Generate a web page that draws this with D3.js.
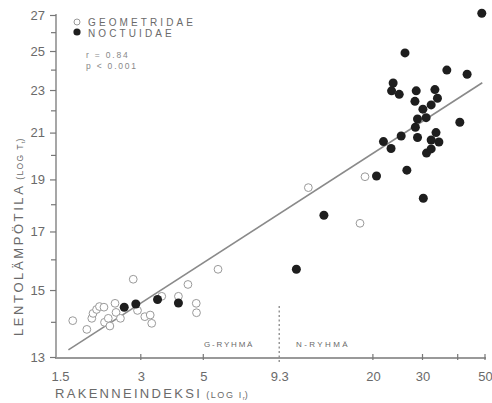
<!DOCTYPE html>
<html><head><meta charset="utf-8">
<script src="https://cdn.jsdelivr.net/npm/d3@7"></script>
<style>
html,body{margin:0;padding:0;background:#fff;}
svg text{font-family:"Liberation Sans",Arial,sans-serif;}
</style>
</head><body>
<svg id="chart" width="492" height="403"></svg>
<script>
// ---- data ----
const xTickValues = [1.5, 3, 5, 9.3, 20, 30, 50];
const xTickLabels = ["1.5", "3", "5", "9.3", "20", "30", "50"];
const xMinorTicks = [40];
const yTickValues = [13, 15, 17, 19, 21, 23, 25, 27];
const yMinorTicks = [14, 16, 18, 20, 22, 24, 26];

const geometridaeX = [1.72,1.93,2.01,2.03,2.09,2.14,2.22,2.23,2.30,2.33,2.43,2.45,2.54,2.82,2.92,3.10,3.24,3.28,3.56,4.08,4.41,4.72,4.73,5.64,11.8,18.75,18.0];
const geometridaeY = [14.05,13.79,14.12,14.27,14.39,14.48,14.46,14.0,14.12,13.89,14.58,14.30,14.12,15.35,14.36,14.17,14.22,13.97,14.80,14.80,15.18,14.58,14.29,15.68,18.67,19.11,17.3];

const noctuidaeX = [2.62,2.88,3.44,4.08,10.7,13.4,20.6,21.8,23.2,23.6,23.3,24.8,25.2,26.0,26.4,28.3,28.2,28.5,28.8,28.8,30.1,30.2,30.9,31.0,32.2,32.2,32.2,33.2,33.9,33.5,34.3,36.6,40.7,43.2,48.7];
const noctuidaeY = [14.46,14.56,14.70,14.59,15.68,17.6,19.14,20.6,20.3,23.35,22.96,22.79,20.85,24.9,19.38,21.24,22.45,22.96,21.62,20.78,22.08,18.25,21.68,20.1,22.28,20.67,20.28,23.02,22.6,21.0,20.58,24.0,21.47,23.79,27.1];

const regressionX = [1.66, 48.9];
const regressionY = [13.2, 23.36];
const groupBoundary = 9.3;
const legendLabels = ["GEOMETRIDAE", "NOCTUIDAE"];
const statsLines = ["r = 0.84", "p < 0.001"];
const groupLabels = ["G-RYHMÄ", "N-RYHMÄ"];

// ---- drawing ----
const svg = d3.select("#chart");
const x = d3.scaleLog().domain([1.5, 50]).range([56, 485]);
const y = d3.scaleLog().domain([13, 27]).range([357, 15]);
const axisCol = "#777", textCol = "#6a6a6a";

// y axis
const yAxis = d3.axisLeft(y).tickValues(yTickValues).tickFormat(d3.format("d")).tickSize(6).tickPadding(5);
const gy = svg.append("g").attr("transform", "translate(56,0)").call(yAxis);
gy.select(".domain").attr("stroke", axisCol).attr("stroke-width", 1.3).attr("d", "M0,14V357");
gy.selectAll(".tick line").attr("stroke", axisCol).attr("stroke-width", 1.2);
gy.selectAll(".tick text").attr("fill", textCol).attr("font-size", 13);
gy.selectAll(".minor").data(yMinorTicks).enter().append("line")
  .attr("x1", -5).attr("x2", 0).attr("y1", d => y(d)).attr("y2", d => y(d))
  .attr("stroke", axisCol).attr("stroke-width", 1.2);

// x axis
const xAxis = d3.axisBottom(x).tickValues(xTickValues).tickFormat((d, i) => xTickLabels[i]).tickSize(0).tickPadding(14);
const gx = svg.append("g").attr("transform", "translate(0,358)").call(xAxis);
gx.select(".domain").attr("stroke", axisCol).attr("stroke-width", 1.3).attr("d", "M55,0H486");
gx.selectAll(".tick text").attr("fill", textCol).attr("font-size", 13);
gx.selectAll(".tick").filter(d => d === 1.5).select("text").attr("dx", 4);
gx.selectAll(".tk").data(xTickValues.filter(d => d !== 1.5 && d !== groupBoundary).concat(xMinorTicks)).enter().append("line")
  .attr("x1", d => x(d)).attr("x2", d => x(d)).attr("y1", -4).attr("y2", 2)
  .attr("stroke", axisCol).attr("stroke-width", 1.2);

// group boundary dashed line
svg.append("line").attr("x1", x(groupBoundary)).attr("x2", x(groupBoundary))
  .attr("y1", 306).attr("y2", 362)
  .attr("stroke", "#888").attr("stroke-width", 1.3).attr("stroke-dasharray", "2,2.5");
svg.append("text").attr("x", 204).attr("y", 347).text(groupLabels[0])
  .attr("fill", textCol).attr("font-size", 8).attr("letter-spacing", 1.8);
svg.append("text").attr("x", 296).attr("y", 347).text(groupLabels[1])
  .attr("fill", textCol).attr("font-size", 8).attr("letter-spacing", 2.4);

// regression line
svg.append("line")
  .attr("x1", x(regressionX[0])).attr("y1", y(regressionY[0]))
  .attr("x2", x(regressionX[1])).attr("y2", y(regressionY[1]))
  .attr("stroke", "#8a8a8a").attr("stroke-width", 1.6);

// points
const geo = geometridaeX.map((v, i) => [v, geometridaeY[i]]);
const noc = noctuidaeX.map((v, i) => [v, noctuidaeY[i]]);
svg.append("g").selectAll("circle").data(geo).enter().append("circle")
  .attr("cx", d => x(d[0])).attr("cy", d => y(d[1])).attr("r", 3.9)
  .attr("fill", "#fff").attr("stroke", "#9a9a9a").attr("stroke-width", 1);
svg.append("g").selectAll("circle").data(noc).enter().append("circle")
  .attr("cx", d => x(d[0])).attr("cy", d => y(d[1])).attr("r", 4.5)
  .attr("fill", "#1e1e1e");

// legend
svg.append("circle").attr("cx", 77).attr("cy", 22).attr("r", 3).attr("fill", "#fff").attr("stroke", "#999").attr("stroke-width", 1);
svg.append("circle").attr("cx", 77).attr("cy", 32).attr("r", 3.6).attr("fill", "#1e1e1e");
svg.append("text").attr("x", 88).attr("y", 26).text(legendLabels[0]).attr("fill", textCol).attr("font-size", 10).attr("letter-spacing", 3.1);
svg.append("text").attr("x", 88).attr("y", 37).text(legendLabels[1]).attr("fill", textCol).attr("font-size", 10).attr("letter-spacing", 3.1);
svg.append("text").attr("x", 86).attr("y", 58).text(statsLines[0]).attr("fill", "#888").attr("font-size", 8.5).attr("letter-spacing", 1.8);
svg.append("text").attr("x", 86).attr("y", 69).text(statsLines[1]).attr("fill", "#888").attr("font-size", 8.5).attr("letter-spacing", 1.8);

// axis titles
const yt = svg.append("text").attr("transform", "translate(23,336) rotate(-90)").attr("fill", textCol);
yt.append("tspan").text("LENTOLÄMPÖTILA").attr("font-size", 13).attr("letter-spacing", 2.6);
yt.append("tspan").text(" (LOG T").attr("font-size", 8.5).attr("letter-spacing", 1.4);
yt.append("tspan").text("t").attr("font-size", 6).attr("dy", 2);
yt.append("tspan").text(")").attr("font-size", 8.5).attr("dy", -2);

const xt = svg.append("text").attr("x", 55).attr("y", 398).attr("fill", textCol);
xt.append("tspan").text("RAKENNEINDEKSI").attr("font-size", 13).attr("letter-spacing", 2.3);
xt.append("tspan").text(" (LOG I").attr("font-size", 9).attr("letter-spacing", 1.6);
xt.append("tspan").text("r").attr("font-size", 6).attr("dy", 2);
xt.append("tspan").text(")").attr("font-size", 9).attr("dy", -2);
</script>
</body></html>
